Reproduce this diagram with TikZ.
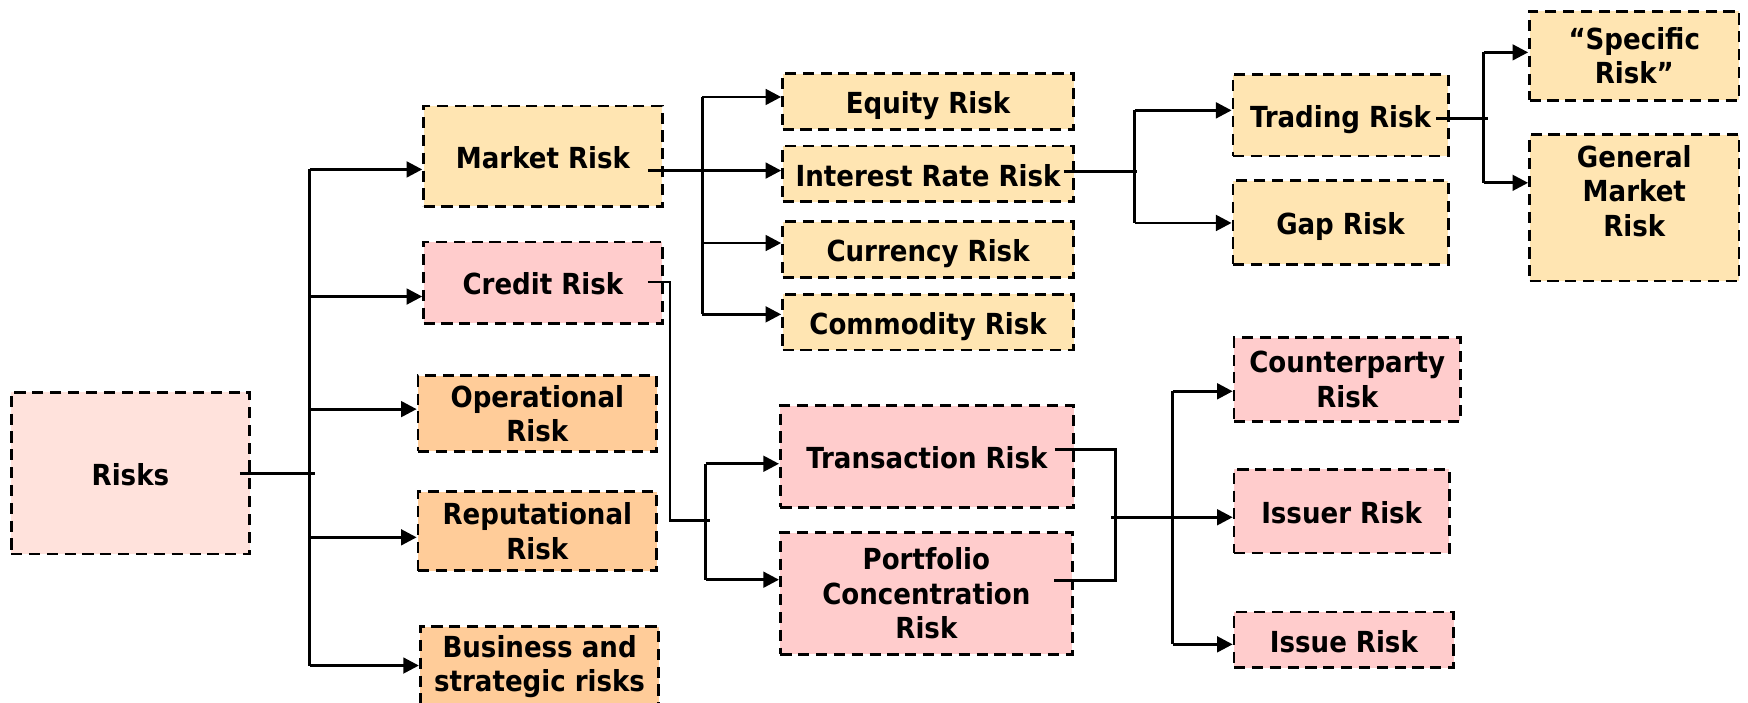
\documentclass[tikz,border=0pt]{standalone}
\usepackage{fontspec}
\setmainfont{DejaVu Sans Condensed}
\usetikzlibrary{arrows.meta}
\definecolor{cyel}{RGB}{255,229,178}
\definecolor{cpink}{RGB}{255,204,204}
\definecolor{corange}{RGB}{255,204,153}
\definecolor{clight}{RGB}{255,226,220}
\begin{document}
\begin{tikzpicture}[x=0.5pt,y=-0.5pt,
  box/.style={draw, line width=1.25pt, dash pattern=on 5pt off 3pt, align=center, inner sep=0pt,
    font=\bfseries\fontsize{13}{15.5}\selectfont},
  one/.style={text height=11pt, text depth=0pt},
  conn/.style={line width=1.3pt},
  arr/.style={line width=1.3pt, -{Triangle[length=7pt,width=7pt]}}]
\useasboundingbox (0,0) rectangle (1568,630);
% boxes
\node[box, one, fill=clight, minimum width=107pt, minimum height=72.5pt] (risks) at (117,424.5) {Risks};
\node[box, one, fill=cyel, minimum width=107pt, minimum height=45pt] (market) at (487,140) {Market Risk};
\node[box, one, fill=cpink, minimum width=107pt, minimum height=36.5pt] (credit) at (487,253.5) {Credit Risk};
\node[box, fill=corange, minimum width=107pt, minimum height=34pt] (oper) at (482,371) {Operational\\Risk};
\node[box, fill=corange, minimum width=107pt, minimum height=35.5pt] (reput) at (482,476.5) {Reputational\\Risk};
\node[box, fill=corange, minimum width=107pt, minimum height=36pt] (business) at (484,598) {Business and\\strategic risks};
\node[box, one, fill=cyel, minimum width=130.5pt, minimum height=25pt] (equity) at (832.5,91) {Equity Risk};
\node[box, one, fill=cyel, minimum width=130.5pt, minimum height=25pt] (interest) at (832.5,156) {Interest Rate Risk};
\node[box, one, fill=cyel, minimum width=130.5pt, minimum height=25pt] (currency) at (832.5,224) {Currency Risk};
\node[box, one, fill=cyel, minimum width=130.5pt, minimum height=25pt] (commodity) at (832.5,289) {Commodity Risk};
\node[box, one, fill=cyel, minimum width=96.5pt, minimum height=36.5pt] (trading) at (1202.5,103.5) {Trading Risk};
\node[box, one, fill=cyel, minimum width=96.5pt, minimum height=37.5pt] (gap) at (1202.5,199.5) {Gap Risk};
\node[box, fill=cyel, minimum width=94pt, minimum height=40pt] (specific) at (1466,50) {``Specific\\Risk''};
\node[box, fill=cyel, minimum width=94pt, minimum height=65.5pt] (general) at (1466,186.5) {General\\Market\\Risk\\\mbox{}};
\node[box, one, fill=cpink, minimum width=131.5pt, minimum height=45.5pt] (transaction) at (831.5,409.5) {Transaction Risk};
\node[box, fill=cpink, minimum width=131pt, minimum height=54.5pt] (portfolio) at (831,532.5) {Portfolio\\Concentration\\Risk};
\node[box, fill=cpink, minimum width=101.5pt, minimum height=37.5pt] (counter) at (1208.5,340.5) {Counterparty\\Risk};
\node[box, one, fill=cpink, minimum width=96.5pt, minimum height=37.5pt] (issuer) at (1203.5,458.5) {Issuer Risk};
\node[box, one, fill=cpink, minimum width=98.5pt, minimum height=25pt] (issue) at (1205.5,574) {Issue Risk};
% bus coordinates
\coordinate (rA) at (278,152); \coordinate (rB) at (278,266); \coordinate (rC) at (278,367);
\coordinate (rD) at (278,482); \coordinate (rE) at (278,597); \coordinate (rJ) at (283,425);
\coordinate (mA) at (630,87); \coordinate (mB) at (630,153); \coordinate (mC) at (630,218); \coordinate (mD) at (630,282);
\coordinate (cA) at (633,416); \coordinate (cB) at (633,520); \coordinate (cJ) at (601,253); \coordinate (cK) at (637,467);
\coordinate (iA) at (1018,99); \coordinate (iB) at (1018,200); \coordinate (iJ) at (1020,154);
\coordinate (tA) at (1331,47); \coordinate (tB) at (1331,164); \coordinate (tJ) at (1335,106);
\coordinate (pA) at (1052,351); \coordinate (pB) at (1052,464); \coordinate (pC) at (1052,578);
\coordinate (pJ) at (1001,403); \coordinate (pK) at (1001,521); \coordinate (pL) at (997,464);
% Risks
\draw[conn] ([xshift=-5pt]risks.east |- rJ) -- (rJ);
\draw[conn] (rA) -- (rE);
\draw[arr] (rA) -- (rA -| market.west);
\draw[arr] (rB) -- (rB -| credit.west);
\draw[arr] (rC) -- (rC -| oper.west);
\draw[arr] (rD) -- (rD -| reput.west);
\draw[arr] (rE) -- (rE -| business.west);
% Market
\draw[arr] ([xshift=-7pt]market.east |- mB) -- (mB -| interest.west);
\draw[conn] (mA) -- (mD);
\draw[arr] (mA) -- (mA -| equity.west);
\draw[arr] (mC) -- (mC -| currency.west);
\draw[arr] (mD) -- (mD -| commodity.west);
% Credit
\draw[conn] ([xshift=-7pt]credit.east |- cJ) -- (cJ) -- (cJ |- cK) -- (cK);
\draw[conn] (cA) -- (cB);
\draw[arr] (cA) -- (cA -| transaction.west);
\draw[arr] (cB) -- (cB -| portfolio.west);
% Interest
\draw[conn] ([xshift=-5pt]interest.east |- iJ) -- (iJ);
\draw[conn] (iA) -- (iB);
\draw[arr] (iA) -- (iA -| trading.west);
\draw[arr] (iB) -- (iB -| gap.west);
% Trading
\draw[conn] ([xshift=-6pt]trading.east |- tJ) -- (tJ);
\draw[conn] (tA) -- (tB);
\draw[arr] (tA) -- (tA -| specific.west);
\draw[arr] (tB) -- (tB -| general.west);
% Transaction / Portfolio
\draw[conn] ([xshift=-9pt]transaction.east |- pJ) -- (pJ) -- (pK) -- ([xshift=-9pt]portfolio.east |- pK);
\draw[conn] (pL) -- (1060,464);
\draw[conn] (pA) -- (pC);
\draw[arr] (pA) -- (pA -| counter.west);
\draw[arr] (pB) -- (pB -| issuer.west);
\draw[arr] (pC) -- (pC -| issue.west);
\end{tikzpicture}
\end{document}
